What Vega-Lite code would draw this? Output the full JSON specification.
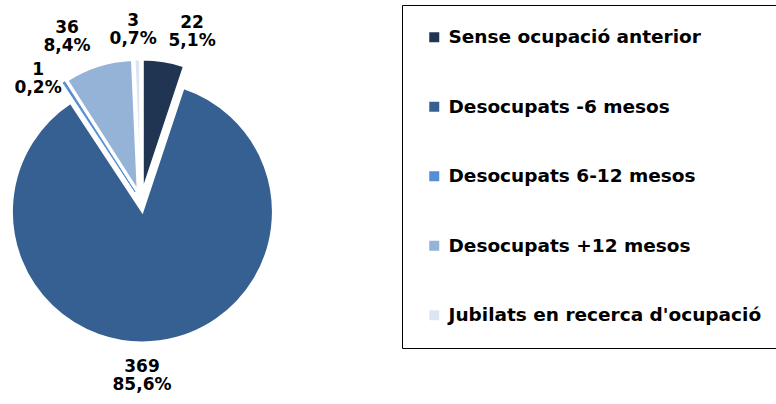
{
  "$schema": "https://vega.github.io/schema/vega-lite/v6.json",
  "width": 282,
  "height": 402,
  "padding": 0,
  "background": "white",
  "config": {"view": {"stroke": null}},
  "data": {"values": [
    {"cat": "Sense ocupació anterior", "value": 22, "pct": 5.1, "ord": 1},
    {"cat": "Desocupats -6 mesos", "value": 369, "pct": 85.6, "ord": 2},
    {"cat": "Desocupats 6-12 mesos", "value": 1, "pct": 0.2, "ord": 3},
    {"cat": "Desocupats +12 mesos", "value": 36, "pct": 8.4, "ord": 4},
    {"cat": "Jubilats en recerca d'ocupació", "value": 3, "pct": 0.7, "ord": 5}
  ]},
  "transform": [
    {"calculate": "datum.value + '\\n' + replace(format(datum.pct, '.1f'), '.', ',') + '%'", "as": "label"}
  ],
  "encoding": {
    "theta": {"field": "value", "type": "quantitative", "stack": true},
    "order": {"field": "ord", "type": "quantitative"},
    "color": {
      "field": "cat", "type": "nominal",
      "scale": {
        "domain": ["Sense ocupació anterior", "Desocupats -6 mesos", "Desocupats 6-12 mesos", "Desocupats +12 mesos", "Jubilats en recerca d'ocupació"],
        "range": ["#1F3552", "#366092", "#558ED5", "#95B3D7", "#DCE6F2"]
      },
      "legend": {
        "orient": "none", "legendX": 402, "legendY": 5, "title": null,
        "symbolType": "square", "symbolSize": 100, "symbolStrokeWidth": 0,
        "labelFont": "DejaVu Sans", "labelFontWeight": "bold", "labelFontSize": 18.5, "labelColor": "black",
        "labelLimit": 400, "labelOffset": 5,
        "rowPadding": 50.5, "padding": 23,
        "strokeColor": "black", "fillColor": "white",
        "encode": {"legend": {"update": {"strokeWidth": {"value": 1.5}, "width": {"value": 327}}}}
      }
    }
  },
  "layer": [
    {"mark": {"type": "arc", "outerRadius": 130.5, "stroke": "white", "strokeWidth": 2, "xOffset": 1.4, "yOffset": 10.9},
     "encoding": {"opacity": {"condition": {"test": "datum.cat === 'Desocupats -6 mesos'", "value": 1}, "value": 0}}},
    {"mark": {"type": "arc", "outerRadius": 130.5, "stroke": "white", "strokeWidth": 2, "xOffset": 1.8, "yOffset": -10.9},
     "encoding": {"opacity": {"condition": {"test": "datum.cat === 'Sense ocupació anterior'", "value": 1}, "value": 0}}},
    {"mark": {"type": "arc", "outerRadius": 130.5, "stroke": "white", "strokeWidth": 2, "xOffset": -3.3, "yOffset": -10.5},
     "encoding": {"opacity": {"condition": {"test": "datum.cat === 'Desocupats +12 mesos'", "value": 1}, "value": 0}}},
    {"mark": {"type": "arc", "outerRadius": 130.5, "stroke": "white", "strokeWidth": 2, "xOffset": -0.8, "yOffset": -11},
     "encoding": {"opacity": {"condition": {"test": "datum.cat === \"Jubilats en recerca d'ocupació\"", "value": 1}, "value": 0}}},
    {"mark": {"type": "arc", "outerRadius": 130.5, "stroke": "#558ED5", "strokeWidth": 1, "xOffset": -6.0, "yOffset": -9.2},
     "encoding": {"opacity": {"condition": {"test": "datum.cat === 'Desocupats 6-12 mesos'", "value": 1}, "value": 0}}},
    {"mark": {"type": "text", "radius": 176, "font": "DejaVu Sans", "fontWeight": "bold", "fontSize": 17, "lineHeight": 18, "lineBreak": "\n", "align": "center", "baseline": "middle", "dx": 23, "dy": -4},
     "encoding": {"color": {"value": "black"}, "text": {"condition": {"test": "datum.cat === 'Sense ocupació anterior'", "field": "label", "type": "nominal"}, "value": ""}}},
    {"mark": {"type": "text", "radius": 176, "font": "DejaVu Sans", "fontWeight": "bold", "fontSize": 17, "lineHeight": 18, "lineBreak": "\n", "align": "center", "baseline": "middle", "dx": -22, "dy": -8},
     "encoding": {"color": {"value": "black"}, "text": {"condition": {"test": "datum.cat === 'Desocupats -6 mesos'", "field": "label", "type": "nominal"}, "value": ""}}},
    {"mark": {"type": "text", "radius": 176, "font": "DejaVu Sans", "fontWeight": "bold", "fontSize": 17, "lineHeight": 18, "lineBreak": "\n", "align": "center", "baseline": "middle", "dx": -7, "dy": 17},
     "encoding": {"color": {"value": "black"}, "text": {"condition": {"test": "datum.cat === 'Desocupats 6-12 mesos'", "field": "label", "type": "nominal"}, "value": ""}}},
    {"mark": {"type": "text", "radius": 176, "font": "DejaVu Sans", "fontWeight": "bold", "fontSize": 17, "lineHeight": 18, "lineBreak": "\n", "align": "center", "baseline": "middle", "dx": -21, "dy": -5},
     "encoding": {"color": {"value": "black"}, "text": {"condition": {"test": "datum.cat === 'Desocupats +12 mesos'", "field": "label", "type": "nominal"}, "value": ""}}},
    {"mark": {"type": "text", "radius": 176, "font": "DejaVu Sans", "fontWeight": "bold", "fontSize": 17, "lineHeight": 18, "lineBreak": "\n", "align": "center", "baseline": "middle", "dx": -4, "dy": -4},
     "encoding": {"color": {"value": "black"}, "text": {"condition": {"test": "datum.cat === \"Jubilats en recerca d'ocupació\"", "field": "label", "type": "nominal"}, "value": ""}}}
  ]
}
